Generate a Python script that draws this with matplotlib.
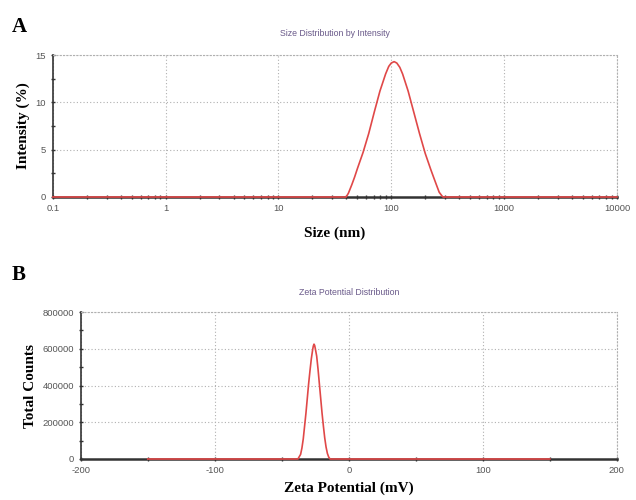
import matplotlib
matplotlib.use("Agg")
import matplotlib.pyplot as plt
from matplotlib.ticker import FixedLocator, NullFormatter, MultipleLocator, LogLocator

plt.rcParams["axes.unicode_minus"] = False

# panel A: size distribution by intensity
size_nm = [0.1, 39.8, 41.7, 44.7, 47.3, 50.1, 56.2, 63.1, 70.8, 79.4, 89.1, 95,
           100, 106, 112, 119, 126, 141, 158, 178, 200, 224, 237, 251, 266,
           282, 288, 10000]
intensity_pct = [0, 0, 0.4, 1.3, 2.1, 3.0, 4.7, 6.7, 9.0, 11.2, 13.0, 13.8,
                 14.15, 14.3, 14.15, 13.7, 13.0, 11.2, 9.0, 6.7, 4.6, 2.9, 2.1,
                 1.3, 0.5, 0.1, 0, 0]
size_ticks = [0.1, 1, 10, 100, 1000, 10000]
size_ticklabels = ["0.1", "1", "10", "100", "1000", "10000"]

# panel B: zeta potential distribution
zeta_mv = [-150, -38, -36, -35, -34, -33, -32, -31, -30, -29, -28, -27, -26.5,
           -26, -25.5, -25, -24, -23, -22, -21, -20, -19, -18, -17, -16, -15,
           -14, 150]
counts = [0, 0, 25000, 60000, 110000, 180000, 250000, 330000, 410000, 480000,
          545000, 595000, 615000, 625000, 618000, 600000, 560000, 490000,
          410000, 330000, 250000, 180000, 115000, 65000, 30000, 10000, 0, 0]
zeta_ticks = [-200, -100, 0, 100, 200]
count_ticks = [0, 200000, 400000, 600000, 800000]

RED = "#e04848"
GRID = "#b0b0b0"
TICKC = "#555555"
serif = ["Liberation Serif", "DejaVu Serif"]
sans = ["Liberation Sans", "DejaVu Sans"]

fig = plt.figure(figsize=(6.36, 5.0), dpi=100)


def style_axes(ax):
    for s in ("top", "right"):
        ax.spines[s].set_linestyle((0, (1, 2)))
        ax.spines[s].set_color(GRID)
        ax.spines[s].set_linewidth(0.8)
    ax.spines["left"].set_color("#333333")
    ax.spines["left"].set_linewidth(1.2)
    ax.spines["bottom"].set_color("#333333")
    ax.spines["bottom"].set_linewidth(1.8)
    ax.grid(True, which="major", linestyle=(0, (1, 2)), color=GRID, linewidth=0.8)
    ax.tick_params(which="major", labelsize=6.8, labelcolor=TICKC, color="#333333",
                   length=3, width=1, direction="inout")
    ax.tick_params(which="minor", color="#333333", length=3, width=1, direction="inout")
    for lab in ax.get_xticklabels() + ax.get_yticklabels():
        lab.set_family(sans)


# --- A ---
axA = fig.add_axes([0.083, 0.606, 0.887, 0.284])
axA.plot(size_nm, intensity_pct, color=RED, lw=1.2, zorder=3, clip_on=False)
axA.set_xscale("log")
axA.set_xlim(0.1, 10000)
axA.set_ylim(0, 15)
axA.xaxis.set_major_locator(FixedLocator(size_ticks))
axA.set_xticklabels(size_ticklabels)
axA.xaxis.set_minor_locator(LogLocator(base=10, subs=range(2, 10)))
axA.xaxis.set_minor_formatter(NullFormatter())
axA.yaxis.set_major_locator(MultipleLocator(5))
axA.yaxis.set_minor_locator(MultipleLocator(2.5))
style_axes(axA)
axA.set_xlabel("Size (nm)", family=serif, fontweight="bold", fontsize=11, labelpad=10)
axA.set_ylabel("Intensity (%)", family=serif, fontweight="bold", fontsize=11, labelpad=4)
axA.set_title("Size Distribution by Intensity", fontsize=6.3, color="#6a5a8a",
              family=sans, pad=14)

# --- B ---
axB = fig.add_axes([0.127, 0.082, 0.843, 0.294])
axB.plot(zeta_mv, counts, color=RED, lw=1.2, zorder=3, clip_on=False)
axB.set_xlim(-200, 200)
axB.set_ylim(0, 800000)
axB.xaxis.set_major_locator(FixedLocator(zeta_ticks))
axB.xaxis.set_minor_locator(MultipleLocator(50))
axB.yaxis.set_major_locator(FixedLocator(count_ticks))
axB.yaxis.set_minor_locator(MultipleLocator(100000))
style_axes(axB)
axB.set_xlabel("Zeta Potential (mV)", family=serif, fontweight="bold", fontsize=11, labelpad=5)
axB.set_ylabel("Total Counts", family=serif, fontweight="bold", fontsize=11, labelpad=4)
axB.set_title("Zeta Potential Distribution", fontsize=6.3, color="#6a5a8a",
              family=sans, pad=12)

fig.text(0.018, 0.935, "A", family=serif, fontweight="bold", fontsize=15)
fig.text(0.018, 0.44, "B", family=serif, fontweight="bold", fontsize=15)

fig.savefig("out.png", dpi=100)
